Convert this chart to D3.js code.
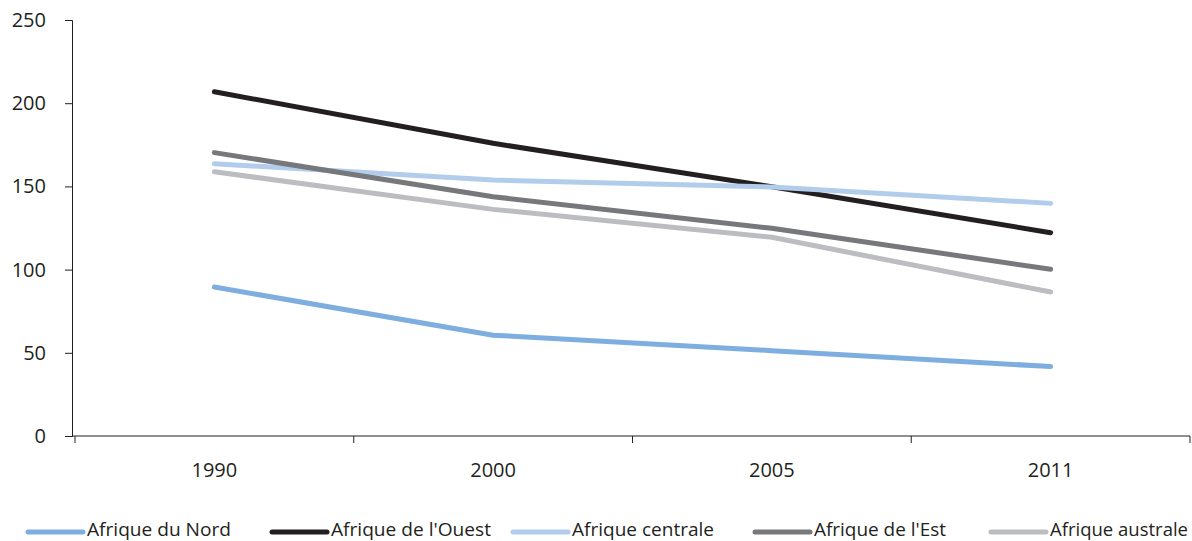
<!DOCTYPE html>
<html>
<head>
<meta charset="utf-8">
<script src="https://cdn.jsdelivr.net/npm/d3@7"></script>
<style>
  body { margin: 0; background: #fff; }
  text { font-family: "Open Sans", "Noto Sans", sans-serif; fill: #231f20; }
</style>
</head>
<body>
<div id="vis" style="width:1192px;height:541px;"></div>
<script>
var years = ['1990', '2000', '2005', '2011'];
var yTicks = [0, 50, 100, 150, 200, 250];

var seriesNames = ['Afrique du Nord', "Afrique de l'Ouest", 'Afrique centrale', "Afrique de l'Est", 'Afrique australe'];
var nord = [89.5, 60.6, 51.3, 41.7];
var ouest = [206.9, 175.9, 149.8, 122.2];
var centrale = [163.6, 153.8, 149.6, 139.8];
var est = [170.3, 143.8, 124.8, 100.2];
var australe = [158.8, 136.2, 119.4, 86.5];
var colors = ['#7eaddf', '#231f20', '#b2cceb', '#77787b', '#bcbdc0'];

var allSeries = [nord, ouest, centrale, est, australe];

var width = 1192, height = 541;

var svg = d3.select('#vis')
    .append('svg')
    .attr('width', width)
    .attr('height', height);

var xscale = d3.scaleBand()
    .domain(years)
    .range([75, 1190]);

var yscale = d3.scaleLinear()
    .domain([0, 250])
    .range([436, 20]);

// y axis
var yaxis = d3.axisLeft(yscale)
    .tickValues(yTicks)
    .tickSize(7)
    .tickPadding(19);

svg.append('g')
    .attr('class', 'y axis')
    .attr('transform', 'translate(72,0)')
    .call(yaxis);

// x axis
var xaxis = d3.axisBottom(xscale)
    .tickSize(0)
    .tickPadding(27);

var gx = svg.append('g')
    .attr('class', 'x axis')
    .attr('transform', 'translate(0,436)')
    .call(xaxis);

gx.select('.domain').remove();

gx.append('line')
    .attr('x1', 72)
    .attr('x2', 1190)
    .attr('stroke', '#231f20')
    .attr('stroke-width', 1.2);

// band separators
var seps = xscale.domain().map(function(d) { return xscale(d); }).concat([xscale.range()[1]]);
gx.selectAll('.sep')
    .data(seps)
    .enter()
    .append('line')
    .attr('class', 'sep')
    .attr('x1', function(d) { return d; })
    .attr('x2', function(d) { return d; })
    .attr('y1', 0)
    .attr('y2', 7)
    .attr('stroke', '#231f20');

svg.selectAll('.axis .domain, .axis .tick line')
    .attr('stroke', '#231f20');

svg.selectAll('.axis text')
    .style('font-size', '20px')
    .style('fill', '#231f20');

// lines
var line = d3.line()
    .x(function(d, i) { return xscale(years[i]) + xscale.bandwidth() / 2; })
    .y(function(d) { return yscale(d); });

svg.selectAll('.series')
    .data(allSeries)
    .enter()
    .append('path')
    .attr('class', 'series')
    .attr('d', line)
    .attr('fill', 'none')
    .attr('stroke', function(d, i) { return colors[i]; })
    .attr('stroke-width', 5)
    .attr('stroke-linecap', 'round')
    .attr('stroke-linejoin', 'round');

// legend
var legendX = [28, 272, 513, 755, 991];
var legendW = [144, 160, 142, 132, 138];
var legend = svg.selectAll('.legend')
    .data(seriesNames)
    .enter()
    .append('g')
    .attr('class', 'legend')
    .attr('transform', function(d, i) { return 'translate(' + legendX[i] + ',532)'; });

legend.append('line')
    .attr('x1', 0)
    .attr('x2', 55)
    .attr('stroke', function(d, i) { return colors[i]; })
    .attr('stroke-width', 5)
    .attr('stroke-linecap', 'round');

legend.append('text')
    .attr('x', 59)
    .attr('y', 4)
    .attr('textLength', function(d, i) { return legendW[i]; })
    .attr('lengthAdjust', 'spacingAndGlyphs')
    .style('font-size', '19px')
    .text(function(d) { return d; });
</script>
</body>
</html>
